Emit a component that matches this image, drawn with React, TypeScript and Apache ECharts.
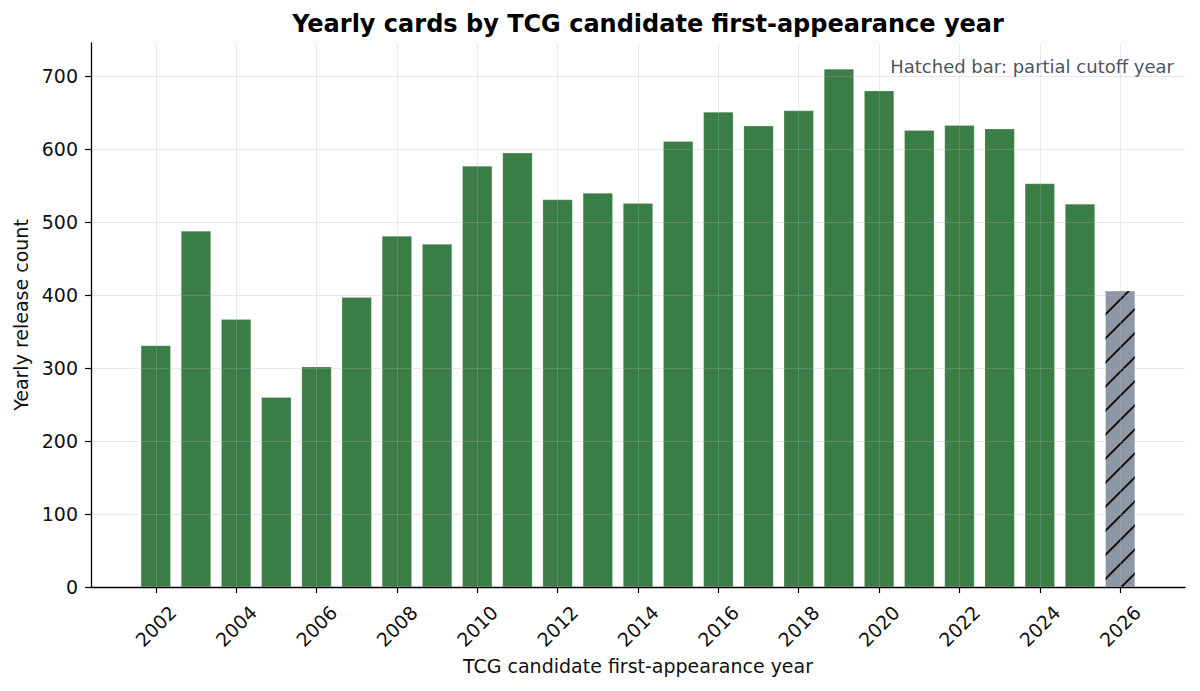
import React, { useEffect, useRef } from 'react';
import * as echarts from 'echarts';

// yearly counts
const years = [
  2002, 2003, 2004, 2005, 2006, 2007, 2008, 2009, 2010, 2011, 2012, 2013,
  2014, 2015, 2016, 2017, 2018, 2019, 2020, 2021, 2022, 2023, 2024, 2025, 2026
];
const counts = [
  331, 488, 367, 260, 302, 397, 481, 470, 577, 595, 531, 540,
  526, 611, 651, 632, 653, 710, 680, 626, 633, 628, 553, 525, 406
];
const partialYear = 2026;
const xTickYears = [2002, 2004, 2006, 2008, 2010, 2012, 2014, 2016, 2018, 2020, 2022, 2024, 2026];
const yTicks = [0, 100, 200, 300, 400, 500, 600, 700];

const FONT = 'DejaVu Sans';
const BAR_GREEN = '#3b7d46';
const PARTIAL_GRAY = '#8f97a4';
const GRID_LINE = 'rgba(176, 176, 176, 0.28)';

const App: React.FC = () => {
  const chartRef = useRef<HTMLDivElement>(null);

  useEffect(() => {
    document.body.style.margin = '0';
    if (!chartRef.current) return;
    const chart = echarts.init(chartRef.current, null, { renderer: 'svg' });

    const barData = years.map((y, i) => {
      if (y === partialYear) {
        // partial year: gray with "/" hatching
        return {
          value: [y, counts[i]],
          itemStyle: {
            color: PARTIAL_GRAY,
            decal: {
              symbol: 'rect',
              symbolSize: 1,
              color: '#111111',
              dashArrayX: [1, 0],
              dashArrayY: [1.6, 15],
              rotation: -Math.PI / 4
            }
          }
        };
      }
      return { value: [y, counts[i]] };
    });

    chart.setOption({
      animation: false,
      backgroundColor: '#ffffff',
      title: {
        text: 'Yearly cards by TCG candidate first-appearance year',
        left: 643,
        top: 7,
        textAlign: 'center',
        textStyle: { fontFamily: FONT, fontSize: 24, fontWeight: 'bold', color: '#000' }
      },
      grid: { left: 91, right: 15, top: 43, bottom: 104, containLabel: false },
      xAxis: {
        type: 'value',
        min: 2000.3875,
        max: 2027.6125,
        z: 5,
        name: 'TCG candidate first-appearance year',
        nameLocation: 'middle',
        nameGap: 66,
        nameTextStyle: { fontFamily: FONT, fontSize: 19, color: '#111' },
        axisLine: { show: true, onZero: false, lineStyle: { color: '#000', width: 1.3 } },
        axisTick: { show: true, length: 6, customValues: xTickYears, lineStyle: { color: '#000', width: 1.2 } },
        axisLabel: {
          customValues: xTickYears,
          rotate: 45,
          align: 'center',
          verticalAlign: 'middle',
          margin: 39,
          fontFamily: FONT,
          fontSize: 19,
          color: '#111',
          formatter: (v: number) => String(v)
        },
        splitLine: { show: true, lineStyle: { color: GRID_LINE, width: 1 } }
      },
      yAxis: {
        type: 'value',
        min: 0,
        max: 745.5,
        z: 5,
        name: 'Yearly release count',
        nameLocation: 'middle',
        nameGap: 59,
        nameTextStyle: { fontFamily: FONT, fontSize: 19, color: '#111' },
        axisLine: { show: true, lineStyle: { color: '#000', width: 1.3 } },
        axisTick: { show: true, length: 6, customValues: yTicks, lineStyle: { color: '#000', width: 1.2 } },
        axisLabel: {
          customValues: yTicks,
          margin: 13,
          fontFamily: FONT,
          fontSize: 19,
          color: '#111',
          formatter: (v: number) => String(v)
        },
        splitLine: { show: true, lineStyle: { color: GRID_LINE, width: 1 } }
      },
      graphic: [
        {
          type: 'text',
          right: 26,
          top: 57,
          style: {
            text: 'Hatched bar: partial cutoff year',
            fontFamily: FONT,
            fontSize: 18,
            fill: '#4b5563'
          }
        }
      ],
      series: [
        {
          type: 'bar',
          barWidth: 30,
          data: barData,
          itemStyle: {
            color: BAR_GREEN,
            borderColor: 'rgba(255,255,255,0.35)',
            borderWidth: 0.6
          }
        }
      ]
    });

    return () => chart.dispose();
  }, []);

  return <div ref={chartRef} style={{ width: 1200, height: 691 }} />;
};

export default App;
